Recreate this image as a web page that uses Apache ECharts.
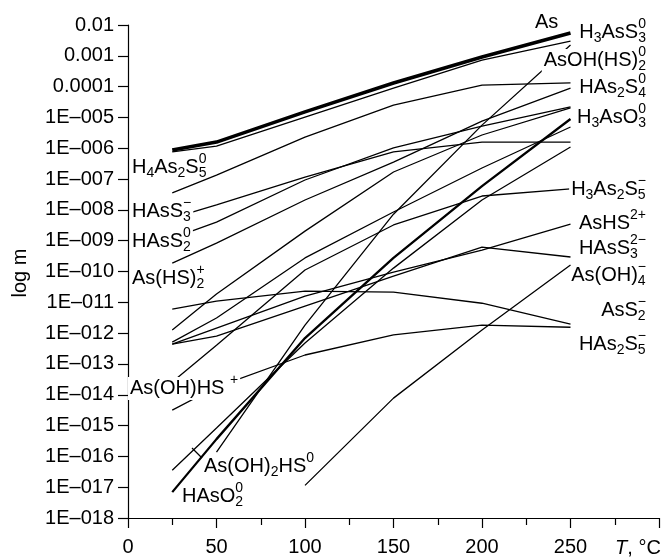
<!DOCTYPE html>
<html><head><meta charset="utf-8">
<script src="https://cdn.jsdelivr.net/npm/echarts/dist/echarts.min.js"></script>
<style>html,body{margin:0;padding:0;background:#fff}#c{width:662px;height:557px}</style>
</head><body><div id="c"></div>
<script>
// temperatures (°C) and log10(m) values per species
const T = [25, 50, 100, 150, 200, 250];
const As_total  = [-6.06, -5.80, -4.82, -3.88, -3.04, -2.26];
const H3AsS3    = [-6.12, -5.93, -4.99, -4.05, -3.14, -2.52];
const H4As2S5   = [-7.45, -6.87, -5.64, -4.60, -3.95, -3.88];
const HAsS3m    = [-8.27, -7.84, -6.94, -6.12, -5.80, -5.80];
const HAsS2     = [-8.92, -8.40, -7.03, -5.99, -5.28, -4.66];
const HAs2S4    = [-9.73, -9.08, -7.68, -6.45, -5.12, -4.05];
const AsHS2p    = [-11.22, -10.96, -10.64, -10.67, -11.03, -11.71];
const H3AsO3a   = [-11.90, -10.73, -8.69, -6.77, -5.57, -4.69];
const H3AsO3b   = [-12.29, -11.51, -9.56, -8.07, -6.64, -5.31];
const AsHS2plus = [-12.36, -11.84, -10.80, -10.02, -9.31, -8.46];
const HAsS3mm   = [-12.36, -12.10, -11.12, -10.15, -9.21, -9.53];
const H3As2S5m  = [-13.59, -12.39, -9.95, -8.49, -7.55, -7.32];
const AsOHHSp   = [-14.50, -13.75, -12.71, -12.06, -11.74, -11.81];
const AsOH2HS   = [-16.45, -15.08, -12.32, -9.89, -7.68, -5.96];
const HAsO2     = [-17.16, -15.44, -12.16, -9.56, -7.23, -5.05];
const AsOHHS2   = [null, -15.86, -11.74, -8.14, -5.25, -2.65];
const AsOH4m    = [null, null, -16.94, -14.11, -11.90, -9.79];

const xTicks = [0, 50, 100, 150, 200, 250];
const yTickLabels = {'-2':'0.01','-3':'0.001','-4':'0.0001'};

const seriesDefs = [
  ['As', As_total, 3.6], ['H3AsS3', H3AsS3, 1.3], ['H4As2S5', H4As2S5, 1.3],
  ['HAsS3-', HAsS3m, 1.3], ['HAsS2', HAsS2, 1.3], ['HAs2S4', HAs2S4, 1.3],
  ['AsS2-', AsHS2p, 1.3], ['a', H3AsO3a, 1.3], ['b', H3AsO3b, 1.3],
  ['AsHS2+', AsHS2plus, 1.3], ['HAsS3 2-', HAsS3mm, 1.3], ['H3As2S5-', H3As2S5m, 1.3],
  ['As(OH)HS+', AsOHHSp, 1.3], ['As(OH)2HS', AsOH2HS, 1.3], ['HAsO2', HAsO2, 2.3],
  ['AsOH(HS)2', AsOHHS2, 1.3], ['As(OH)4-', AsOH4m, 1.3]
];

const FONT = '"Liberation Sans", Arial, sans-serif';
const MF = '20px ' + FONT, SF = '14px ' + FONT;
const ctx = document.createElement('canvas').getContext('2d');
const tw = (t, f) => { ctx.font = f; return ctx.measureText(t).width; };
const graphics = [];
function addLabel(parts, x, y, anchor, bg) {
  const pieces = []; let cx = 0;
  for (const [m, sub, sup] of parts) {
    if (m) { pieces.push({t: m, f: MF, x: cx, dy: 0}); cx += tw(m, MF); }
    let sw = 0;
    if (sub) { pieces.push({t: sub, f: SF, x: cx, dy: 6}); sw = Math.max(sw, tw(sub, SF)); }
    if (sup) { pieces.push({t: sup, f: SF, x: cx, dy: -8}); sw = Math.max(sw, tw(sup, SF)); }
    cx += sw;
  }
  const x0 = anchor === 'right' ? x - cx : x;
  if (bg) graphics.push({type: 'rect', z: 50, shape: {x: x0 - 2, y: y - 11, width: cx + 4, height: 23}, style: {fill: '#fff'}});
  pieces.forEach(p => graphics.push({type: 'text', z: 51, x: x0 + p.x, y: y + p.dy,
    style: {text: p.t, font: p.f, fill: '#000', textAlign: 'left', textVerticalAlign: 'middle'}}));
}
// left labels
addLabel([['H','4'],['As','2'],['S','5','0']], 132, 167, 'left', false);
addLabel([['HAs'],['S','3','\u2212']], 132, 211, 'left', true);
addLabel([['HAs'],['S','2','0']], 132, 241, 'left', true);
addLabel([['As(HS)','2','+']], 132, 278, 'left', false);
addLabel([['As(OH)HS '],['','','+']], 130, 388, 'left', true);
addLabel([['As(OH)','2'],['HS','','0']], 204, 466, 'left', false);
addLabel([['HAs'],['O','2','0']], 182, 496, 'left', false);
// right labels
addLabel([['As']], 535, 22, 'left', false);
addLabel([['H','3'],['As'],['S','3','0']], 646, 32, 'right', false);
addLabel([['AsOH(HS)','2','0']], 646, 60, 'right', true);
addLabel([['H'],['As','2'],['S','4','0']], 646, 87, 'right', false);
addLabel([['H','3'],['As'],['O','3','0']], 646, 117, 'right', false);
addLabel([['H','3'],['As','2'],['S','5','\u2212']], 646, 189, 'right', true);
addLabel([['AsHS','','2+']], 646, 223, 'right', false);
addLabel([['HAs'],['S','3','2\u2212']], 646, 248, 'right', false);
addLabel([['As(OH)','4','\u2212']], 646, 275, 'right', false);
addLabel([['As'],['S','2','\u2212']], 646, 310, 'right', false);
addLabel([['H'],['As','2'],['S','5','\u2212']], 646, 344, 'right', false);
// leader line
graphics.push({type: 'line', z: 52, shape: {x1: 192, y1: 448, x2: 202, y2: 458}, style: {stroke: '#000', lineWidth: 1.2}});
// axis titles
graphics.push({type: 'text', z: 51, x: 20, y: 273, rotation: Math.PI / 2,
  style: {text: 'log m', font: '20px ' + FONT, fill: '#000', textAlign: 'center', textVerticalAlign: 'middle'}});
graphics.push({type: 'text', z: 51, x: 638, y: 548,
  style: {text: '{i|T}, \u00B0C', font: '20px ' + FONT, fill: '#000', textAlign: 'center', textVerticalAlign: 'middle',
    rich: {i: {fontStyle: 'italic', fontSize: 20, fontFamily: FONT}}}});

const chart = echarts.init(document.getElementById('c'), null, {renderer: 'canvas'});
chart.setOption({
  animation: false,
  backgroundColor: '#fff',
  grid: {left: 128, right: 3, top: 25, bottom: 39, containLabel: false},
  xAxis: {
    type: 'value', min: 0, max: 300, interval: 50,
    axisLine: {lineStyle: {color: '#000', width: 1.2}},
    axisTick: {length: 10, lineStyle: {color: '#000', width: 1.2}},
    minorTick: {show: true, splitNumber: 2, length: 7, lineStyle: {color: '#000', width: 1.2}},
    splitLine: {show: false},
    axisLabel: {color: '#000', fontSize: 20, fontFamily: FONT, margin: 19,
      formatter: v => xTicks.includes(v) ? String(v) : ''}
  },
  yAxis: {
    type: 'value', min: -18, max: -2, interval: 1,
    axisLine: {show: true, lineStyle: {color: '#000', width: 1.2}},
    axisTick: {show: true, length: 10, lineStyle: {color: '#000', width: 1.2}},
    splitLine: {show: false},
    axisLabel: {color: '#000', fontSize: 20, fontFamily: FONT, margin: 14,
      formatter: v => yTickLabels[String(v)] || ('1E\u2013' + String(-v).padStart(3, '0'))}
  },
  series: seriesDefs.map(([name, arr, w]) => ({
    name, type: 'line', symbol: 'none', z: 3,
    lineStyle: {color: '#000', width: w},
    data: T.map((t, i) => [t, arr[i]]).filter(p => p[1] !== null)
  })),
  graphic: {elements: graphics}
});
</script></body></html>
